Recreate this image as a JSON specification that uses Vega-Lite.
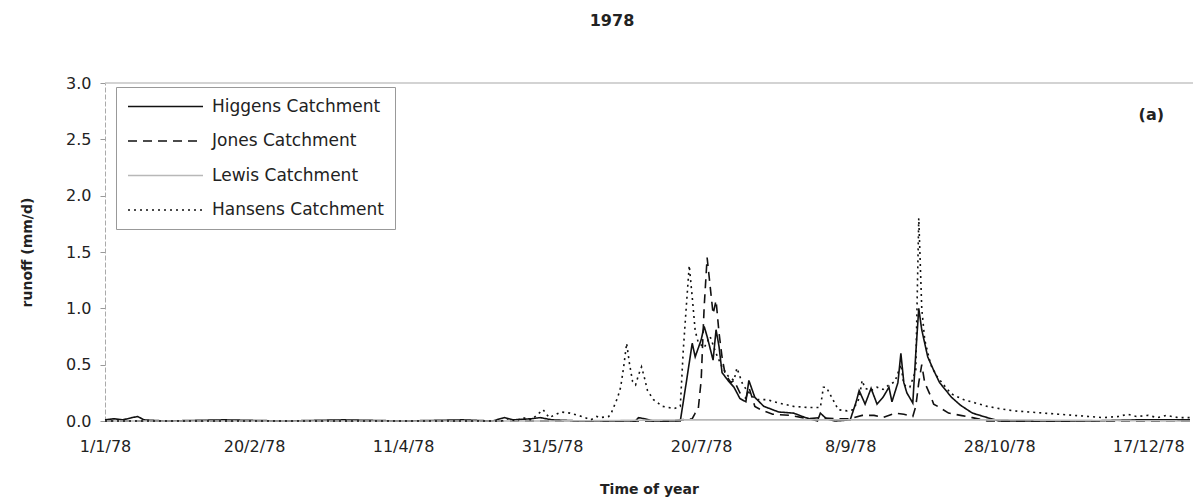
{
  "$schema": "https://vega.github.io/schema/vega-lite/v6.json",
  "width": 1088,
  "height": 338,
  "autosize": {"type": "none"},
  "padding": {"left": 105, "top": 83, "right": 6, "bottom": 82},
  "background": "white",
  "title": {"text": "1978", "fontSize": 16, "fontWeight": "bold", "font": "DejaVu Sans", "color": "#222", "offset": 46, "dx": -37},
  "config": {"view": {"stroke": null}, "font": "DejaVu Sans"},
  "data": {"values": [
    {"d": "1978-01-01", "s": "Higgens Catchment", "v": 0.01},
    {"d": "1978-01-04", "s": "Higgens Catchment", "v": 0.02},
    {"d": "1978-01-07", "s": "Higgens Catchment", "v": 0.01},
    {"d": "1978-01-10", "s": "Higgens Catchment", "v": 0.03},
    {"d": "1978-01-12", "s": "Higgens Catchment", "v": 0.04},
    {"d": "1978-01-14", "s": "Higgens Catchment", "v": 0.01},
    {"d": "1978-01-21", "s": "Higgens Catchment", "v": 0.0},
    {"d": "1978-02-10", "s": "Higgens Catchment", "v": 0.01},
    {"d": "1978-03-02", "s": "Higgens Catchment", "v": 0.0},
    {"d": "1978-03-22", "s": "Higgens Catchment", "v": 0.01},
    {"d": "1978-04-11", "s": "Higgens Catchment", "v": 0.0},
    {"d": "1978-05-01", "s": "Higgens Catchment", "v": 0.01},
    {"d": "1978-05-11", "s": "Higgens Catchment", "v": 0.0},
    {"d": "1978-05-15", "s": "Higgens Catchment", "v": 0.03},
    {"d": "1978-05-18", "s": "Higgens Catchment", "v": 0.01},
    {"d": "1978-05-24", "s": "Higgens Catchment", "v": 0.02},
    {"d": "1978-05-27", "s": "Higgens Catchment", "v": 0.03},
    {"d": "1978-05-31", "s": "Higgens Catchment", "v": 0.01},
    {"d": "1978-06-10", "s": "Higgens Catchment", "v": 0.0},
    {"d": "1978-06-28", "s": "Higgens Catchment", "v": 0.0},
    {"d": "1978-06-29", "s": "Higgens Catchment", "v": 0.03},
    {"d": "1978-07-01", "s": "Higgens Catchment", "v": 0.02},
    {"d": "1978-07-04", "s": "Higgens Catchment", "v": 0.0},
    {"d": "1978-07-13", "s": "Higgens Catchment", "v": 0.0},
    {"d": "1978-07-15", "s": "Higgens Catchment", "v": 0.34},
    {"d": "1978-07-17", "s": "Higgens Catchment", "v": 0.69},
    {"d": "1978-07-18", "s": "Higgens Catchment", "v": 0.57},
    {"d": "1978-07-20", "s": "Higgens Catchment", "v": 0.72},
    {"d": "1978-07-21", "s": "Higgens Catchment", "v": 0.84},
    {"d": "1978-07-22", "s": "Higgens Catchment", "v": 0.75},
    {"d": "1978-07-24", "s": "Higgens Catchment", "v": 0.54},
    {"d": "1978-07-25", "s": "Higgens Catchment", "v": 0.81},
    {"d": "1978-07-26", "s": "Higgens Catchment", "v": 0.66},
    {"d": "1978-07-27", "s": "Higgens Catchment", "v": 0.43},
    {"d": "1978-07-29", "s": "Higgens Catchment", "v": 0.36},
    {"d": "1978-07-31", "s": "Higgens Catchment", "v": 0.3},
    {"d": "1978-08-02", "s": "Higgens Catchment", "v": 0.2},
    {"d": "1978-08-04", "s": "Higgens Catchment", "v": 0.17},
    {"d": "1978-08-05", "s": "Higgens Catchment", "v": 0.36},
    {"d": "1978-08-07", "s": "Higgens Catchment", "v": 0.21},
    {"d": "1978-08-10", "s": "Higgens Catchment", "v": 0.13},
    {"d": "1978-08-15", "s": "Higgens Catchment", "v": 0.08},
    {"d": "1978-08-20", "s": "Higgens Catchment", "v": 0.07},
    {"d": "1978-08-24", "s": "Higgens Catchment", "v": 0.03},
    {"d": "1978-08-28", "s": "Higgens Catchment", "v": 0.0},
    {"d": "1978-08-29", "s": "Higgens Catchment", "v": 0.07},
    {"d": "1978-08-31", "s": "Higgens Catchment", "v": 0.02},
    {"d": "1978-09-03", "s": "Higgens Catchment", "v": 0.0},
    {"d": "1978-09-08", "s": "Higgens Catchment", "v": 0.01},
    {"d": "1978-09-10", "s": "Higgens Catchment", "v": 0.17},
    {"d": "1978-09-11", "s": "Higgens Catchment", "v": 0.27},
    {"d": "1978-09-13", "s": "Higgens Catchment", "v": 0.15},
    {"d": "1978-09-15", "s": "Higgens Catchment", "v": 0.29},
    {"d": "1978-09-17", "s": "Higgens Catchment", "v": 0.15},
    {"d": "1978-09-19", "s": "Higgens Catchment", "v": 0.21},
    {"d": "1978-09-21", "s": "Higgens Catchment", "v": 0.3},
    {"d": "1978-09-22", "s": "Higgens Catchment", "v": 0.17},
    {"d": "1978-09-24", "s": "Higgens Catchment", "v": 0.34},
    {"d": "1978-09-25", "s": "Higgens Catchment", "v": 0.6},
    {"d": "1978-09-26", "s": "Higgens Catchment", "v": 0.34},
    {"d": "1978-09-27", "s": "Higgens Catchment", "v": 0.25},
    {"d": "1978-09-29", "s": "Higgens Catchment", "v": 0.16},
    {"d": "1978-09-30", "s": "Higgens Catchment", "v": 0.6},
    {"d": "1978-10-01", "s": "Higgens Catchment", "v": 1.0},
    {"d": "1978-10-02", "s": "Higgens Catchment", "v": 0.81},
    {"d": "1978-10-04", "s": "Higgens Catchment", "v": 0.57},
    {"d": "1978-10-06", "s": "Higgens Catchment", "v": 0.45},
    {"d": "1978-10-08", "s": "Higgens Catchment", "v": 0.34},
    {"d": "1978-10-12", "s": "Higgens Catchment", "v": 0.21},
    {"d": "1978-10-15", "s": "Higgens Catchment", "v": 0.14},
    {"d": "1978-10-19", "s": "Higgens Catchment", "v": 0.07},
    {"d": "1978-10-24", "s": "Higgens Catchment", "v": 0.03},
    {"d": "1978-10-28", "s": "Higgens Catchment", "v": 0.0},
    {"d": "1978-11-27", "s": "Higgens Catchment", "v": 0.0},
    {"d": "1978-12-12", "s": "Higgens Catchment", "v": 0.01},
    {"d": "1978-12-31", "s": "Higgens Catchment", "v": 0.01},

    {"d": "1978-01-01", "s": "Jones Catchment", "v": 0.0},
    {"d": "1978-04-11", "s": "Jones Catchment", "v": 0.0},
    {"d": "1978-07-10", "s": "Jones Catchment", "v": 0.0},
    {"d": "1978-07-17", "s": "Jones Catchment", "v": 0.02},
    {"d": "1978-07-18", "s": "Jones Catchment", "v": 0.07},
    {"d": "1978-07-19", "s": "Jones Catchment", "v": 0.1},
    {"d": "1978-07-20", "s": "Jones Catchment", "v": 0.36},
    {"d": "1978-07-21", "s": "Jones Catchment", "v": 1.01},
    {"d": "1978-07-22", "s": "Jones Catchment", "v": 1.45},
    {"d": "1978-07-23", "s": "Jones Catchment", "v": 1.2},
    {"d": "1978-07-24", "s": "Jones Catchment", "v": 0.95},
    {"d": "1978-07-25", "s": "Jones Catchment", "v": 1.07},
    {"d": "1978-07-26", "s": "Jones Catchment", "v": 0.78},
    {"d": "1978-07-27", "s": "Jones Catchment", "v": 0.57},
    {"d": "1978-07-28", "s": "Jones Catchment", "v": 0.42},
    {"d": "1978-07-30", "s": "Jones Catchment", "v": 0.34},
    {"d": "1978-07-31", "s": "Jones Catchment", "v": 0.36},
    {"d": "1978-08-02", "s": "Jones Catchment", "v": 0.25},
    {"d": "1978-08-04", "s": "Jones Catchment", "v": 0.2},
    {"d": "1978-08-05", "s": "Jones Catchment", "v": 0.3},
    {"d": "1978-08-07", "s": "Jones Catchment", "v": 0.13},
    {"d": "1978-08-09", "s": "Jones Catchment", "v": 0.1},
    {"d": "1978-08-13", "s": "Jones Catchment", "v": 0.06},
    {"d": "1978-08-19", "s": "Jones Catchment", "v": 0.05},
    {"d": "1978-08-25", "s": "Jones Catchment", "v": 0.02},
    {"d": "1978-08-29", "s": "Jones Catchment", "v": 0.03},
    {"d": "1978-09-03", "s": "Jones Catchment", "v": 0.02},
    {"d": "1978-09-08", "s": "Jones Catchment", "v": 0.02},
    {"d": "1978-09-12", "s": "Jones Catchment", "v": 0.05},
    {"d": "1978-09-16", "s": "Jones Catchment", "v": 0.05},
    {"d": "1978-09-19", "s": "Jones Catchment", "v": 0.03},
    {"d": "1978-09-23", "s": "Jones Catchment", "v": 0.07},
    {"d": "1978-09-26", "s": "Jones Catchment", "v": 0.06},
    {"d": "1978-09-29", "s": "Jones Catchment", "v": 0.04},
    {"d": "1978-09-30", "s": "Jones Catchment", "v": 0.13},
    {"d": "1978-10-01", "s": "Jones Catchment", "v": 0.34},
    {"d": "1978-10-02", "s": "Jones Catchment", "v": 0.5},
    {"d": "1978-10-03", "s": "Jones Catchment", "v": 0.34},
    {"d": "1978-10-05", "s": "Jones Catchment", "v": 0.22},
    {"d": "1978-10-06", "s": "Jones Catchment", "v": 0.15},
    {"d": "1978-10-08", "s": "Jones Catchment", "v": 0.12},
    {"d": "1978-10-11", "s": "Jones Catchment", "v": 0.07},
    {"d": "1978-10-15", "s": "Jones Catchment", "v": 0.05},
    {"d": "1978-10-19", "s": "Jones Catchment", "v": 0.03},
    {"d": "1978-10-24", "s": "Jones Catchment", "v": 0.0},
    {"d": "1978-12-31", "s": "Jones Catchment", "v": 0.0},

    {"d": "1978-01-01", "s": "Lewis Catchment", "v": 0.0},
    {"d": "1978-05-31", "s": "Lewis Catchment", "v": 0.0},
    {"d": "1978-07-15", "s": "Lewis Catchment", "v": 0.01},
    {"d": "1978-08-29", "s": "Lewis Catchment", "v": 0.01},
    {"d": "1978-10-28", "s": "Lewis Catchment", "v": 0.01},
    {"d": "1978-12-31", "s": "Lewis Catchment", "v": 0.0},

    {"d": "1978-01-01", "s": "Hansens Catchment", "v": 0.0},
    {"d": "1978-03-02", "s": "Hansens Catchment", "v": 0.0},
    {"d": "1978-05-01", "s": "Hansens Catchment", "v": 0.0},
    {"d": "1978-05-14", "s": "Hansens Catchment", "v": 0.0},
    {"d": "1978-05-16", "s": "Hansens Catchment", "v": 0.02},
    {"d": "1978-05-19", "s": "Hansens Catchment", "v": 0.0},
    {"d": "1978-05-21", "s": "Hansens Catchment", "v": 0.03},
    {"d": "1978-05-24", "s": "Hansens Catchment", "v": 0.01},
    {"d": "1978-05-28", "s": "Hansens Catchment", "v": 0.1},
    {"d": "1978-05-30", "s": "Hansens Catchment", "v": 0.03},
    {"d": "1978-06-03", "s": "Hansens Catchment", "v": 0.08},
    {"d": "1978-06-06", "s": "Hansens Catchment", "v": 0.07},
    {"d": "1978-06-10", "s": "Hansens Catchment", "v": 0.04},
    {"d": "1978-06-13", "s": "Hansens Catchment", "v": 0.01},
    {"d": "1978-06-15", "s": "Hansens Catchment", "v": 0.04},
    {"d": "1978-06-16", "s": "Hansens Catchment", "v": 0.03},
    {"d": "1978-06-19", "s": "Hansens Catchment", "v": 0.04},
    {"d": "1978-06-20", "s": "Hansens Catchment", "v": 0.08},
    {"d": "1978-06-22", "s": "Hansens Catchment", "v": 0.21},
    {"d": "1978-06-23", "s": "Hansens Catchment", "v": 0.3},
    {"d": "1978-06-24", "s": "Hansens Catchment", "v": 0.48},
    {"d": "1978-06-25", "s": "Hansens Catchment", "v": 0.69},
    {"d": "1978-06-26", "s": "Hansens Catchment", "v": 0.5},
    {"d": "1978-06-27", "s": "Hansens Catchment", "v": 0.35},
    {"d": "1978-06-28", "s": "Hansens Catchment", "v": 0.32},
    {"d": "1978-06-29", "s": "Hansens Catchment", "v": 0.41},
    {"d": "1978-06-30", "s": "Hansens Catchment", "v": 0.48},
    {"d": "1978-07-01", "s": "Hansens Catchment", "v": 0.38},
    {"d": "1978-07-02", "s": "Hansens Catchment", "v": 0.27},
    {"d": "1978-07-04", "s": "Hansens Catchment", "v": 0.19},
    {"d": "1978-07-07", "s": "Hansens Catchment", "v": 0.13},
    {"d": "1978-07-11", "s": "Hansens Catchment", "v": 0.11},
    {"d": "1978-07-13", "s": "Hansens Catchment", "v": 0.13},
    {"d": "1978-07-14", "s": "Hansens Catchment", "v": 0.63},
    {"d": "1978-07-15", "s": "Hansens Catchment", "v": 1.01},
    {"d": "1978-07-16", "s": "Hansens Catchment", "v": 1.38},
    {"d": "1978-07-17", "s": "Hansens Catchment", "v": 1.1},
    {"d": "1978-07-18", "s": "Hansens Catchment", "v": 0.8},
    {"d": "1978-07-19", "s": "Hansens Catchment", "v": 0.7},
    {"d": "1978-07-21", "s": "Hansens Catchment", "v": 0.65},
    {"d": "1978-07-23", "s": "Hansens Catchment", "v": 0.75},
    {"d": "1978-07-25", "s": "Hansens Catchment", "v": 0.6},
    {"d": "1978-07-27", "s": "Hansens Catchment", "v": 0.48},
    {"d": "1978-07-29", "s": "Hansens Catchment", "v": 0.4},
    {"d": "1978-07-31", "s": "Hansens Catchment", "v": 0.36},
    {"d": "1978-08-01", "s": "Hansens Catchment", "v": 0.47},
    {"d": "1978-08-03", "s": "Hansens Catchment", "v": 0.32},
    {"d": "1978-08-06", "s": "Hansens Catchment", "v": 0.22},
    {"d": "1978-08-08", "s": "Hansens Catchment", "v": 0.19},
    {"d": "1978-08-11", "s": "Hansens Catchment", "v": 0.19},
    {"d": "1978-08-15", "s": "Hansens Catchment", "v": 0.16},
    {"d": "1978-08-20", "s": "Hansens Catchment", "v": 0.13},
    {"d": "1978-08-25", "s": "Hansens Catchment", "v": 0.12},
    {"d": "1978-08-29", "s": "Hansens Catchment", "v": 0.12},
    {"d": "1978-08-30", "s": "Hansens Catchment", "v": 0.3},
    {"d": "1978-08-31", "s": "Hansens Catchment", "v": 0.3},
    {"d": "1978-09-02", "s": "Hansens Catchment", "v": 0.2},
    {"d": "1978-09-04", "s": "Hansens Catchment", "v": 0.1},
    {"d": "1978-09-07", "s": "Hansens Catchment", "v": 0.09},
    {"d": "1978-09-09", "s": "Hansens Catchment", "v": 0.1},
    {"d": "1978-09-11", "s": "Hansens Catchment", "v": 0.2},
    {"d": "1978-09-12", "s": "Hansens Catchment", "v": 0.36},
    {"d": "1978-09-13", "s": "Hansens Catchment", "v": 0.29},
    {"d": "1978-09-15", "s": "Hansens Catchment", "v": 0.27},
    {"d": "1978-09-17", "s": "Hansens Catchment", "v": 0.3},
    {"d": "1978-09-19", "s": "Hansens Catchment", "v": 0.28},
    {"d": "1978-09-21", "s": "Hansens Catchment", "v": 0.32},
    {"d": "1978-09-23", "s": "Hansens Catchment", "v": 0.35},
    {"d": "1978-09-25", "s": "Hansens Catchment", "v": 0.5},
    {"d": "1978-09-26", "s": "Hansens Catchment", "v": 0.32},
    {"d": "1978-09-28", "s": "Hansens Catchment", "v": 0.3},
    {"d": "1978-09-30", "s": "Hansens Catchment", "v": 0.45},
    {"d": "1978-10-01", "s": "Hansens Catchment", "v": 1.8},
    {"d": "1978-10-02", "s": "Hansens Catchment", "v": 1.0},
    {"d": "1978-10-03", "s": "Hansens Catchment", "v": 0.72},
    {"d": "1978-10-05", "s": "Hansens Catchment", "v": 0.5},
    {"d": "1978-10-07", "s": "Hansens Catchment", "v": 0.4},
    {"d": "1978-10-10", "s": "Hansens Catchment", "v": 0.3},
    {"d": "1978-10-12", "s": "Hansens Catchment", "v": 0.24},
    {"d": "1978-10-16", "s": "Hansens Catchment", "v": 0.19},
    {"d": "1978-10-20", "s": "Hansens Catchment", "v": 0.16},
    {"d": "1978-10-24", "s": "Hansens Catchment", "v": 0.13},
    {"d": "1978-10-28", "s": "Hansens Catchment", "v": 0.11},
    {"d": "1978-11-02", "s": "Hansens Catchment", "v": 0.09},
    {"d": "1978-11-07", "s": "Hansens Catchment", "v": 0.08},
    {"d": "1978-11-12", "s": "Hansens Catchment", "v": 0.07},
    {"d": "1978-11-17", "s": "Hansens Catchment", "v": 0.06},
    {"d": "1978-11-22", "s": "Hansens Catchment", "v": 0.05},
    {"d": "1978-11-27", "s": "Hansens Catchment", "v": 0.04},
    {"d": "1978-12-02", "s": "Hansens Catchment", "v": 0.03},
    {"d": "1978-12-07", "s": "Hansens Catchment", "v": 0.04},
    {"d": "1978-12-10", "s": "Hansens Catchment", "v": 0.06},
    {"d": "1978-12-13", "s": "Hansens Catchment", "v": 0.04},
    {"d": "1978-12-17", "s": "Hansens Catchment", "v": 0.05},
    {"d": "1978-12-20", "s": "Hansens Catchment", "v": 0.03},
    {"d": "1978-12-23", "s": "Hansens Catchment", "v": 0.05},
    {"d": "1978-12-27", "s": "Hansens Catchment", "v": 0.03},
    {"d": "1978-12-31", "s": "Hansens Catchment", "v": 0.03}
  ]},
  "layer": [
    {
      "data": {"values": [{"top": 3}]},
      "mark": {"type": "rule", "color": "#c4c4c4", "strokeWidth": 1.5},
      "encoding": {"y": {"field": "top", "type": "quantitative", "scale": {"domain": [0, 3], "nice": false}}}
    },
    {
      "mark": {"type": "line", "strokeWidth": 1.6, "interpolate": "linear"},
      "encoding": {
        "x": {
          "field": "d", "type": "temporal",
          "scale": {"type": "utc", "domain": [{"year": 1978, "month": 1, "date": 1, "utc": true}, {"year": 1979, "month": 1, "date": 1, "utc": true}]},
          "axis": {
            "title": "Time of year",
            "values": [
              {"year": 1978, "month": 1, "date": 1, "utc": true},
              {"year": 1978, "month": 2, "date": 20, "utc": true},
              {"year": 1978, "month": 4, "date": 11, "utc": true},
              {"year": 1978, "month": 5, "date": 31, "utc": true},
              {"year": 1978, "month": 7, "date": 20, "utc": true},
              {"year": 1978, "month": 9, "date": 8, "utc": true},
              {"year": 1978, "month": 10, "date": 28, "utc": true},
              {"year": 1978, "month": 12, "date": 17, "utc": true}
            ],
            "labelExpr": "utcFormat(datum.value, '%-d/%-m/%y')",
            "grid": false, "domain": false, "ticks": false,
            "labelFont": "DejaVu Sans", "labelFontSize": 16, "labelColor": "#222", "labelPadding": 17,
            "labelFlush": false, "labelOverlap": false,
            "titleFont": "DejaVu Sans", "titleFontSize": 14, "titleFontWeight": "bold", "titleColor": "#222", "titlePadding": 28
          }
        },
        "y": {
          "field": "v", "type": "quantitative",
          "scale": {"domain": [0, 3], "nice": false},
          "axis": {
            "title": "runoff (mm/d)",
            "values": [0, 0.5, 1, 1.5, 2, 2.5, 3],
            "format": ".1f", "grid": false,
            "domainColor": "#aaa", "domainDash": [5, 2], "tickColor": "#999", "tickSize": 5,
            "labelFont": "DejaVu Sans", "labelFontSize": 16, "labelColor": "#222", "labelPadding": 9,
            "titleFont": "DejaVu Sans", "titleFontSize": 14, "titleFontWeight": "bold", "titleColor": "#222", "titlePadding": 31
          }
        },
        "color": {
          "field": "s", "type": "nominal",
          "scale": {"domain": ["Higgens Catchment", "Jones Catchment", "Lewis Catchment", "Hansens Catchment"], "range": ["#111111", "#111111", "#b8b8b8", "#111111"]},
          "legend": {
            "title": null, "orient": "none", "legendX": 11, "legendY": 4,
            "symbolType": "M-5,0H5", "symbolSize": 225, "symbolStrokeWidth": 1.6, "symbolOffset": 30, "symbolFillColor": "transparent",
            "labelFont": "DejaVu Sans", "labelFontSize": 17, "labelColor": "#222", "labelOffset": 38, "labelLimit": 400,
            "rowPadding": 16.5, "strokeColor": "#999", "fillColor": "white", "padding": 11
          }
        },
        "strokeDash": {
          "field": "s", "type": "nominal",
          "scale": {"domain": ["Higgens Catchment", "Jones Catchment", "Lewis Catchment", "Hansens Catchment"], "range": [[1, 0], [9, 6], [1, 0], [2, 4]]},
          "legend": {
            "title": null, "orient": "none", "legendX": 11, "legendY": 4,
            "symbolType": "M-5,0H5", "symbolSize": 225, "symbolStrokeWidth": 1.6, "symbolOffset": 30, "symbolFillColor": "transparent",
            "labelFont": "DejaVu Sans", "labelFontSize": 17, "labelColor": "#222", "labelOffset": 38, "labelLimit": 400,
            "rowPadding": 16.5, "strokeColor": "#999", "fillColor": "white", "padding": 11
          }
        }
      }
    },
    {
      "data": {"values": [{"lbl": "(a)", "at": "1978-12-18", "h": 2.72}]},
      "mark": {"type": "text", "fontSize": 16, "fontWeight": "bold", "font": "DejaVu Sans", "color": "#222"},
      "encoding": {
        "text": {"field": "lbl"},
        "x": {"field": "at", "type": "temporal"},
        "y": {"field": "h", "type": "quantitative"}
      }
    }
  ]
}
